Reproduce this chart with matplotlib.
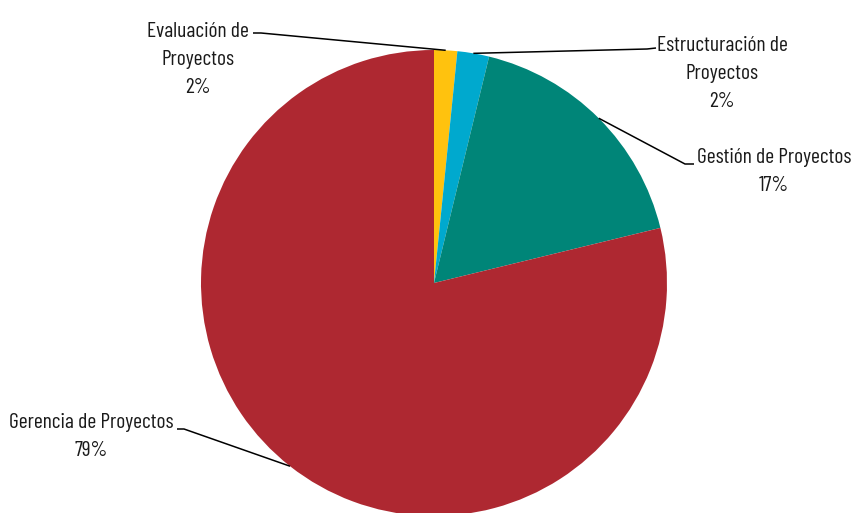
import numpy as np
import matplotlib
matplotlib.use("Agg")
import matplotlib.pyplot as plt

categories = ["Evaluación de\nProyectos", "Estructuración de\nProyectos",
              "Gestión de Proyectos", "Gerencia de Proyectos"]
shares = [1.6, 2.2, 17.4, 78.8]
colors = ["#FFC20E", "#00A9CE", "#008578", "#AE2831"]

# pixel layout of the figure: pie centre and radius
CX, CY, R = 434, 283, 233
W, H = 853, 513


def to_data(px, py):
    return (px - CX) / R, (CY - py) / R


# label block centre, tail end near the text, elbow of the leader line (pixels)
label_layout = [
    ((198, 60), (253, 33), (261, 33)),
    ((722, 74), (656, 48), (647, 49)),
    ((774, 172), (694, 164), (685, 164)),
    ((91, 436), (177, 429), (184, 429)),
]

plt.rcParams["font.family"] = ["Barlow Condensed", "DejaVu Sans"]

fig = plt.figure(figsize=(W / 100, H / 100), dpi=100)
ax = fig.add_axes([0, 0, 1, 1])
ax.pie(shares, colors=colors, startangle=90, counterclock=False, radius=1,
       center=(0, 0), wedgeprops=dict(linewidth=0))
ax.set_xlim(to_data(0, 0)[0], to_data(W, 0)[0])
ax.set_ylim(to_data(0, H)[1], to_data(0, 0)[1])
ax.set_aspect("auto")
ax.axis("off")

total = sum(shares)
start = 0.0
for name, share, (centre, tail, elbow) in zip(categories, shares, label_layout):
    mid = start + share / 2
    start += share
    theta = np.deg2rad(90 - 360 * mid / total)
    edge = (np.cos(theta), np.sin(theta))
    tx, ty = to_data(*tail)
    ex, ey = to_data(*elbow)
    ax.plot([edge[0], ex, tx], [edge[1], ey, ty], color="black", lw=1.1,
            solid_capstyle="butt")
    lx, ly = to_data(*centre)
    ax.text(lx, ly, f"{name}\n{share * 100 / total:.0f}%", ha="center",
            va="center", multialignment="center", fontsize=15.5,
            linespacing=1.6, color="#1a1a1a")

fig.savefig("out.png", dpi=100)
